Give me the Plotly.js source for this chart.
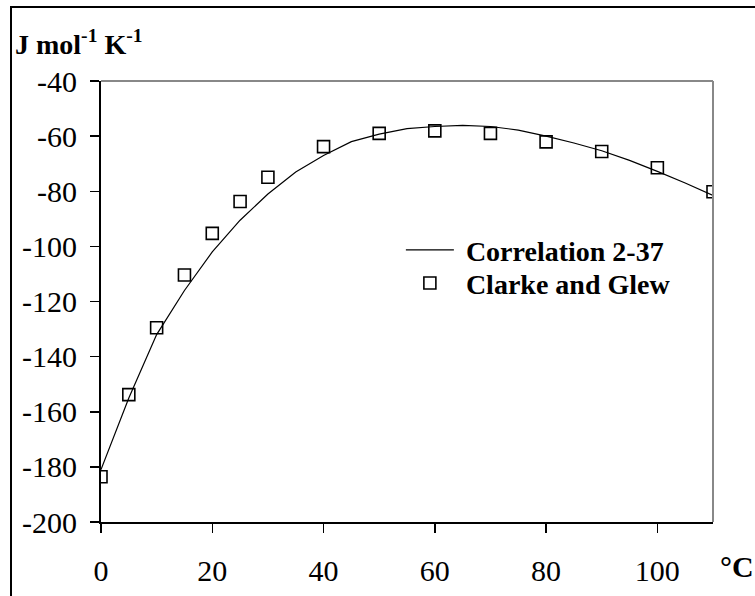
<!DOCTYPE html>
<html>
<head>
<meta charset="utf-8">
<script src="https://cdn.plot.ly/plotly-3.0.1.min.js"></script>
<style>
  html, body { margin: 0; padding: 0; background: #fff; }
  #wrap { position: relative; width: 755px; height: 596px; overflow: hidden; }
  #chart { position: absolute; left: 0; top: 0; width: 755px; height: 596px; }
  #frame { position: absolute; left: 10px; top: 6px; width: 760px; height: 600px;
           border-left: 2px solid #000; border-top: 2px solid #000; pointer-events: none; }
</style>
</head>
<body>
<div id="wrap">
  <div id="chart"></div>
  <div id="frame"></div>
</div>
<script>
// Correlation 2-37 (line)
const corrT = [0, 5, 10, 15, 20, 25, 30, 35, 40, 45, 50, 55, 60, 65, 70, 75, 80, 85, 90, 95, 100, 105, 110];
const corrS = [-181, -155, -132, -116, -102, -90.5, -81, -73, -67, -62, -59.3, -57.3, -56.5, -56.1, -56.5, -57.8, -60, -62.5, -65.3, -68.8, -72.8, -77, -81.5];

// Clarke and Glew (points)
const cgT = [0, 5, 10, 15, 20, 25, 30, 40, 50, 60, 70, 80, 90, 100, 110];
const cgS = [-183.6, -153.8, -129.5, -110.4, -95.3, -83.7, -74.9, -63.8, -59.0, -58.1, -59.0, -62.1, -65.6, -71.5, -80.2];

const xTicks = [0, 20, 40, 60, 80, 100];
const yTicks = [-200, -180, -160, -140, -120, -100, -80, -60, -40];

const serif = "Liberation Serif, Times New Roman, serif";

const traces = [
  {
    x: corrT, y: corrS, type: 'scatter', mode: 'lines',
    name: '\u00A0Correlation 2-37', legend: 'legend',
    line: { color: '#000', width: 1.2 }
  },
  {
    x: cgT, y: cgS, type: 'scatter', mode: 'markers',
    name: '\u00A0Clarke and Glew', legend: 'legend2',
    marker: { symbol: 'square-open', size: 12, color: '#000', line: { width: 1.6, color: '#000' } }
  }
];

const legendFont = { family: serif, size: 28, color: '#000', weight: 'bold' };

const layout = {
  width: 755, height: 596,
  margin: { l: 101, r: 42.4, t: 81, b: 74, pad: 0 },
  paper_bgcolor: '#fff', plot_bgcolor: '#fff',
  font: { family: serif, color: '#000', size: 30 },
  showlegend: true,
  legend: {
    x: 0.49, y: 0.673, xanchor: 'left', yanchor: 'top',
    bgcolor: 'rgba(0,0,0,0)', borderwidth: 0,
    font: legendFont, itemwidth: 48
  },
  legend2: {
    x: 0.49, y: 0.598, xanchor: 'left', yanchor: 'top',
    bgcolor: 'rgba(0,0,0,0)', borderwidth: 0,
    font: legendFont, itemwidth: 48
  },
  xaxis: {
    range: [0, 110], tickvals: xTicks, ticktext: xTicks.map(String),
    showgrid: false, zeroline: false,
    showline: true, linecolor: '#000', linewidth: 2,
    ticks: 'outside', ticklen: 9, tickwidth: 1.5, tickcolor: '#000',
    tickfont: { family: serif, size: 30, color: '#000' },
    ticklabelstandoff: 12
  },
  yaxis: {
    range: [-200, -40], tickvals: yTicks, ticktext: yTicks.map(String),
    showgrid: false, zeroline: false,
    showline: true, linecolor: '#000', linewidth: 2,
    ticks: 'outside', ticklen: 9, tickwidth: 1.5, tickcolor: '#000',
    tickfont: { family: serif, size: 30, color: '#000' },
    ticklabelstandoff: 7
  },
  shapes: [
    { type: 'line', xref: 'paper', yref: 'paper', x0: 0, x1: 1, y0: 1, y1: 1, line: { color: '#888', width: 2 } },
    { type: 'line', xref: 'paper', yref: 'paper', x0: 1, x1: 1, y0: 0, y1: 1, line: { color: '#888', width: 2 } }
  ],
  annotations: [
    { text: '<b>J mol<sup>-1</sup> K<sup>-1</sup></b>', xref: 'paper', yref: 'paper',
      x: -0.143, y: 1.088, xanchor: 'left', yanchor: 'middle', showarrow: false,
      font: { family: serif, size: 28, color: '#000' } },
    { text: '<b>°C</b>', xref: 'paper', yref: 'paper',
      x: 1.008, y: -0.1, xanchor: 'left', yanchor: 'middle', showarrow: false,
      font: { family: serif, size: 30, color: '#000' } }
  ]
};

Plotly.newPlot('chart', traces, layout, { displayModeBar: false, staticPlot: true });
</script>
</body>
</html>
